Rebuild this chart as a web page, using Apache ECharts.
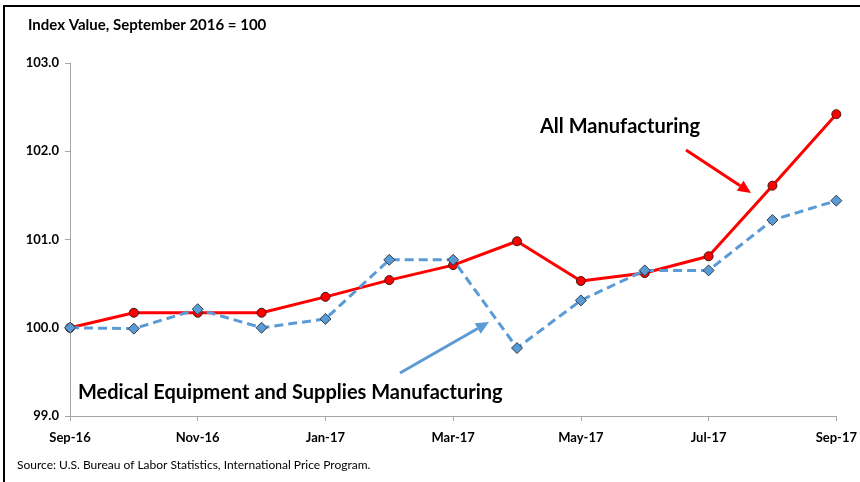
<!DOCTYPE html>
<html>
<head>
<meta charset="utf-8">
<script src="https://cdn.jsdelivr.net/npm/echarts@6/dist/echarts.min.js"></script>
<style>
  html, body { margin: 0; padding: 0; background: #fff; }
  #chart { width: 860px; height: 482px; }
</style>
</head>
<body>
<div id="chart"></div>
<script>
// Monthly index values, September 2016 = 100
const months = ['Sep-16', 'Oct-16', 'Nov-16', 'Dec-16', 'Jan-17', 'Feb-17', 'Mar-17',
                'Apr-17', 'May-17', 'Jun-17', 'Jul-17', 'Aug-17', 'Sep-17'];
const allManufacturing = [100.0, 100.17, 100.17, 100.17, 100.35, 100.54, 100.71,
                          100.98, 100.53, 100.62, 100.81, 101.61, 102.42];
const medicalEquipment = [100.0, 99.99, 100.21, 100.0, 100.1, 100.77, 100.77,
                          99.77, 100.31, 100.65, 100.65, 101.22, 101.44];

const FONT = 'Lato, "Open Sans", sans-serif';

// Straight arrow: shaft plus a triangular head at (x2, y2)
function arrow(x1, y1, x2, y2, color) {
  const ang = Math.atan2(y2 - y1, x2 - x1);
  const len = 13, half = 6;
  const bx = x2 - len * Math.cos(ang), by = y2 - len * Math.sin(ang);
  const px = -Math.sin(ang) * half, py = Math.cos(ang) * half;
  return [
    { type: 'line', shape: { x1: x1, y1: y1, x2: bx, y2: by },
      style: { stroke: color, lineWidth: 3 }, z: 10 },
    { type: 'polygon', shape: { points: [[x2, y2], [bx + px, by + py], [bx - px, by - py]] },
      style: { fill: color }, z: 10 }
  ];
}

const chart = echarts.init(document.getElementById('chart'));
chart.setOption({
  animation: false,
  backgroundColor: '#fff',
  grid: { left: 70, right: 23, top: 63, bottom: 66, containLabel: false },
  xAxis: {
    type: 'category',
    data: months,
    boundaryGap: false,
    axisLine: { lineStyle: { color: '#a6a6a6', width: 1 } },
    axisTick: { show: true, interval: 1, length: 5, lineStyle: { color: '#a6a6a6' } },
    axisLabel: { interval: 1, color: '#000', fontFamily: FONT, fontWeight: 'bold',
                 fontSize: 13, margin: 15 },
    splitLine: { show: false }
  },
  yAxis: {
    type: 'value',
    min: 99, max: 103, interval: 1,
    axisLine: { show: true, lineStyle: { color: '#a6a6a6', width: 1 } },
    axisTick: { show: true, length: 5, lineStyle: { color: '#a6a6a6' } },
    axisLabel: { color: '#000', fontFamily: FONT, fontWeight: 'bold', fontSize: 13,
                 margin: 11, formatter: v => v.toFixed(1) },
    splitLine: { show: false }
  },
  series: [
    {
      name: 'All Manufacturing',
      type: 'line',
      data: allManufacturing,
      symbol: 'circle',
      symbolSize: 9,
      lineStyle: { color: '#ff0000', width: 3 },
      itemStyle: { color: '#ff0000', borderColor: '#3a1a1a', borderWidth: 1 },
      z: 2
    },
    {
      name: 'Medical Equipment and Supplies Manufacturing',
      type: 'line',
      data: medicalEquipment,
      symbol: 'diamond',
      symbolSize: 11,
      lineStyle: { color: '#5b9bd5', width: 3, type: [9, 5] },
      itemStyle: { color: '#5b9bd5', borderColor: '#2f3f50', borderWidth: 1 },
      z: 3
    }
  ],
  graphic: [
    // frame edges
    { type: 'line', shape: { x1: 3, y1: 6, x2: 860, y2: 6 }, style: { stroke: '#000', lineWidth: 2 } },
    { type: 'line', shape: { x1: 4, y1: 6, x2: 4, y2: 482 }, style: { stroke: '#000', lineWidth: 2 } },
    { type: 'text', left: 28, top: 18,
      style: { text: 'Index Value, September 2016 = 100', fill: '#000',
               font: 'bold 15px ' + FONT } },
    { type: 'text', left: 17, top: 459,
      style: { text: 'Source: U.S. Bureau of Labor Statistics, International Price Program.',
               fill: '#000', font: '12px ' + FONT } },
    { type: 'text', left: 540, top: 117,
      style: { text: 'All Manufacturing', fill: '#000', font: 'bold 20px ' + FONT } },
    { type: 'text', left: 78, top: 383,
      style: { text: 'Medical Equipment and Supplies Manufacturing', fill: '#000',
               font: 'bold 20px ' + FONT } },
    ...arrow(686, 150, 751, 193, '#ff0000'),
    ...arrow(400, 373, 489, 322, '#5b9bd5')
  ]
});
</script>
</body>
</html>
